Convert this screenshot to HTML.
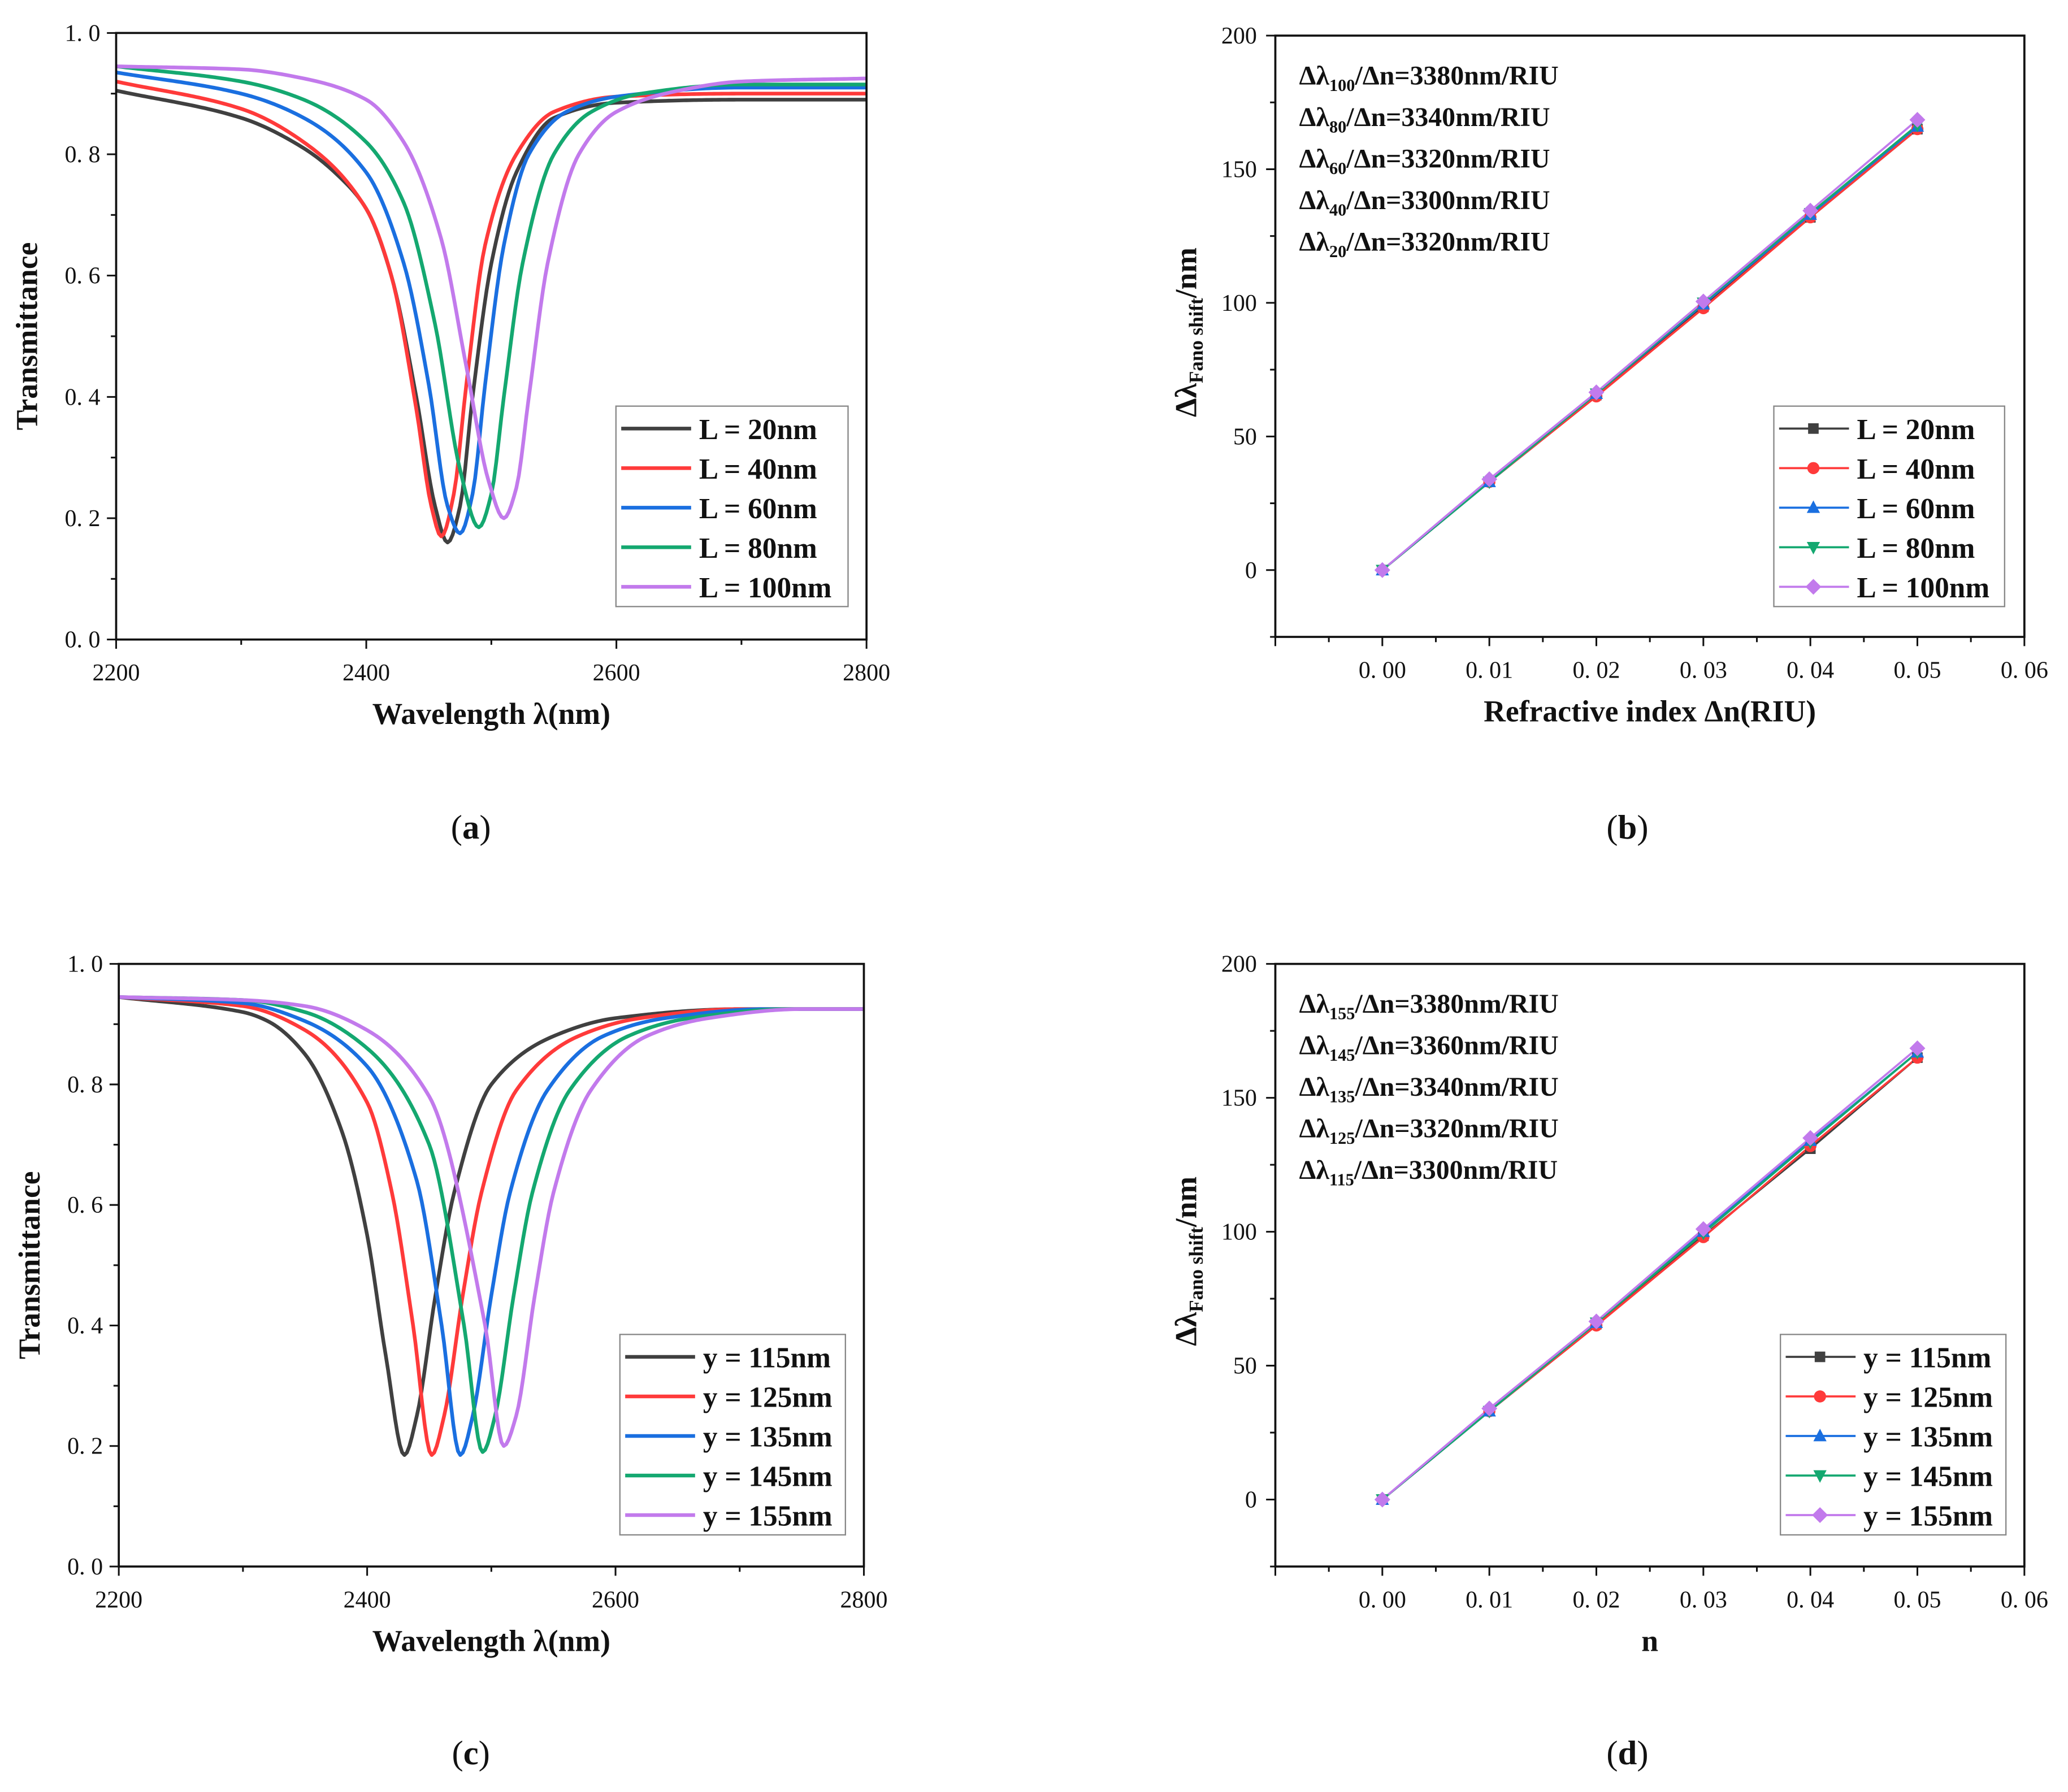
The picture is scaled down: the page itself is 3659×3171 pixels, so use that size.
<!DOCTYPE html>
<html><head><meta charset="utf-8"><style>
html,body{margin:0;padding:0;background:#fff}
svg{display:block}
text{font-family:"Liberation Serif","DejaVu Serif",serif;fill:#111}
.tk{font-size:18px}
.b{font-weight:bold}
</style></head><body>
<svg id="fig" width="3659" height="3171" viewBox="0 0 1568 1359" xmlns="http://www.w3.org/2000/svg">
<rect width="1568" height="1359" fill="#fff"/>
<text x="357" y="636" text-anchor="middle" font-size="26">(<tspan font-weight="bold">a</tspan>)</text>
<text x="1234" y="636" text-anchor="middle" font-size="26">(<tspan font-weight="bold">b</tspan>)</text>
<text x="357" y="1338" text-anchor="middle" font-size="26">(<tspan font-weight="bold">c</tspan>)</text>
<text x="1234" y="1338" text-anchor="middle" font-size="26">(<tspan font-weight="bold">d</tspan>)</text>
</svg>
<script>
const colors=["#404040","#ff3a3a","#1a6fe0","#14a870","#c27aec"];
// Panel a data
const aLabels=["L = 20nm","L = 40nm","L = 60nm","L = 80nm","L = 100nm"];
const aX0=[2200,2300,2350,2380,2400,2420,2440,2455,2465,2475,2485,2500,2520,2550,2600,2700,2800];
const aY0=[0.905,0.86,0.81,0.76,0.71,0.60,0.40,0.22,0.16,0.22,0.40,0.62,0.77,0.86,0.885,0.89,0.89];
const aX1=[2200,2300,2350,2400,2420,2440,2452,2460,2470,2480,2495,2520,2550,2600,2700,2800];
const aY1=[0.92,0.875,0.82,0.71,0.60,0.38,0.22,0.17,0.24,0.42,0.65,0.80,0.87,0.895,0.90,0.90];
const aX2=[2200,2300,2350,2400,2430,2450,2465,2475,2485,2495,2510,2530,2560,2600,2700,2800];
const aY2=[0.935,0.90,0.86,0.77,0.62,0.42,0.22,0.175,0.24,0.42,0.65,0.80,0.87,0.895,0.91,0.91];
const aX3=[2200,2300,2350,2400,2430,2455,2475,2490,2500,2510,2525,2550,2580,2620,2700,2800];
const aY3=[0.945,0.92,0.89,0.82,0.72,0.52,0.28,0.185,0.24,0.40,0.62,0.80,0.87,0.90,0.915,0.915];
const aX4=[2200,2300,2350,2400,2430,2460,2480,2498,2510,2520,2530,2545,2570,2600,2650,2700,2800];
const aY4=[0.945,0.94,0.925,0.89,0.82,0.66,0.45,0.26,0.20,0.25,0.40,0.62,0.80,0.87,0.905,0.92,0.925];
// Panel c data
const cLabels=["y = 115nm","y = 125nm","y = 135nm","y = 145nm","y = 155nm"];
const cX0=[2200,2300,2320,2350,2380,2400,2415,2430,2440,2455,2470,2500,2550,2600,2700,2800];
const cY0=[0.945,0.92,0.905,0.85,0.72,0.55,0.35,0.185,0.25,0.45,0.62,0.80,0.88,0.91,0.925,0.925];
const cX1=[2200,2300,2350,2400,2420,2437,2452,2462,2477,2492,2520,2570,2620,2700,2800];
const cY1=[0.945,0.93,0.89,0.77,0.62,0.40,0.185,0.25,0.45,0.62,0.79,0.88,0.91,0.925,0.925];
const cX2=[2200,2300,2350,2400,2440,2460,2475,2485,2500,2515,2545,2590,2640,2720,2800];
const cY2=[0.945,0.935,0.905,0.83,0.64,0.40,0.185,0.25,0.45,0.62,0.79,0.88,0.91,0.925,0.925];
const cX3=[2200,2300,2350,2400,2450,2478,2493,2503,2518,2533,2563,2610,2660,2740,2800];
const cY3=[0.945,0.94,0.92,0.86,0.70,0.40,0.19,0.25,0.45,0.62,0.79,0.88,0.91,0.925,0.925];
const cX4=[2200,2300,2350,2400,2450,2495,2510,2520,2535,2550,2580,2625,2675,2750,2800];
const cY4=[0.945,0.94,0.93,0.89,0.78,0.40,0.20,0.25,0.45,0.62,0.79,0.88,0.91,0.925,0.925];
// Panel b/d data
const dn=[0,0.01,0.02,0.03,0.04,0.05];
const bS0=[0,33,65.5,98.5,132,165];
const bS1=[0,33,65,98,132,165];
const bS2=[0,33,66,99.5,133,166];
const bS3=[0,33,66,100,133.5,166.5];
const bS4=[0,34,66.5,100.5,134.5,168.5];
const dS0=[0,33,65.5,98.5,131,165];
const dS1=[0,33,65,98,132,165];
const dS2=[0,33,66,100,134,167];
const dS3=[0,33,66,99.5,133.5,167];
const dS4=[0,34,66.5,101,135,168.5];
const bLabels=aLabels, dLabels=cLabels;
const bNotes=[["100","3380"],["80","3340"],["60","3320"],["40","3300"],["20","3320"]];
const dNotes=[["155","3380"],["145","3360"],["135","3340"],["125","3320"],["115","3300"]];
const xTicksA=[2200,2400,2600,2800];
const yTicksA=[0,0.2,0.4,0.6,0.8,1.0];
const xTicksB=[0,0.01,0.02,0.03,0.04,0.05,0.06];
const yTicksB=[0,50,100,150,200];

const NS="http://www.w3.org/2000/svg";
const svg=document.getElementById("fig");
function mk(tag,attrs,parent){const e=document.createElementNS(NS,tag);for(const k in attrs)e.setAttribute(k,attrs[k]);(parent||svg).appendChild(e);return e;}
function lin(d0,d1,r0,r1){return v=>r0+(v-d0)/(d1-d0)*(r1-r0);}
function monoPath(xs,ys,sx,sy){
  const n=xs.length,d=[],m=new Array(n);
  for(let i=0;i<n-1;i++)d.push((ys[i+1]-ys[i])/(xs[i+1]-xs[i]));
  m[0]=d[0];m[n-1]=d[n-2];
  for(let i=1;i<n-1;i++){ if(d[i-1]*d[i]<=0)m[i]=0; else {const w1=2*(xs[i+1]-xs[i])+(xs[i]-xs[i-1]),w2=(xs[i+1]-xs[i])+2*(xs[i]-xs[i-1]);m[i]=(w1+w2)/(w1/d[i-1]+w2/d[i]);} }
  let p="";
  for(let i=0;i<n-1;i++){const h=xs[i+1]-xs[i];const steps=Math.max(4,Math.round(h/2));
    for(let s=(i==0?0:1);s<=steps;s++){const t=s/steps,t2=t*t,t3=t2*t;
      const y=(2*t3-3*t2+1)*ys[i]+(t3-2*t2+t)*h*m[i]+(-2*t3+3*t2)*ys[i+1]+(t3-t2)*h*m[i+1];
      const x=xs[i]+t*h;p+=(p?"L":"M")+sx(x).toFixed(2)+","+sy(y).toFixed(2);}}
  return p;
}

function transPanel(id,L,R,T,B,xsList,ysList,labels,lg){
  const g=mk("g",{});
  
  
  const sx=lin(2200,2800,L,R), sy=lin(0,1,B,T);
  xsList.forEach((xs,k)=>{const p=mk("path",{d:monoPath(xs,ysList[k],sx,sy),fill:"none",stroke:colors[k],"stroke-width":2.8,"stroke-linejoin":"round"},g);
    
    });
  const fr=mk("rect",{x:L,y:T,width:R-L,height:B-T,fill:"none",stroke:"#111","stroke-width":1.6},g);
  
  
  for(let v=0;v<=1.0001;v+=0.1){const y=sy(v);const maj=Math.round(v*10)%2==0;mk("line",{x1:L,x2:L-(maj?7:4),y1:y,y2:y,stroke:"#111","stroke-width":1.3},g);}
  yTicksA.forEach(v=>{const t=mk("text",{x:L-12,y:sy(v)+6,"text-anchor":"end",class:"tk"},g);t.textContent=v.toFixed(1).replace(".",". ");
    
    });
  for(let v=2200;v<=2800;v+=100){const x=sx(v);mk("line",{x1:x,x2:x,y1:B,y2:B+(v%200==0?7:4),stroke:"#111","stroke-width":1.3},g);}
  xTicksA.forEach(v=>{const t=mk("text",{x:sx(v),y:B+31,"text-anchor":"middle",class:"tk"},g);t.textContent=v;
    
    });
  const xt=mk("text",{x:(L+R)/2,y:B+64,"text-anchor":"middle","font-size":23,class:"b"},g);xt.textContent="Wavelength λ(nm)";
  
  
  const yt=mk("text",{x:0,y:0,"text-anchor":"middle","font-size":23,class:"b",transform:"translate("+(L-60)+","+((T+B)/2)+") rotate(-90)"},g);yt.textContent="Transmittance";
  
  
  const leg=mk("g",{},g);
  
  
  mk("rect",{x:lg[0],y:lg[1],width:lg[2],height:152,fill:"#fff",stroke:"#888","stroke-width":1},leg);
  labels.forEach((s,k)=>{const y=lg[1]+17+k*30;mk("line",{x1:lg[0]+4,x2:lg[0]+57,y1:y,y2:y,stroke:colors[k],"stroke-width":2.8},leg);
    const t=mk("text",{x:lg[0]+63,y:y+8,"font-size":22,class:"b"},leg);t.textContent=s;
    
    });
}
function marker(k,x,y,par){
  if(k==0)return mk("rect",{x:x-4,y:y-4,width:8,height:8,fill:colors[k]},par);
  if(k==1)return mk("circle",{cx:x,cy:y,r:4.6,fill:colors[k]},par);
  if(k==2)return mk("polygon",{points:`${x},${y-5.5} ${x+5},${y+4} ${x-5},${y+4}`,fill:colors[k]},par);
  if(k==3)return mk("polygon",{points:`${x},${y+5.5} ${x+5},${y-4} ${x-5},${y-4}`,fill:colors[k]},par);
  return mk("polygon",{points:`${x},${y-6} ${x+6},${y} ${x},${y+6} ${x-6},${y}`,fill:colors[k]},par);
}
function shiftPanel(id,L,R,T,B,series,labels,notes,lg,xtitle){
  const g=mk("g",{});
  
  
  const sx=lin(-0.01,0.06,L,R), sy=lin(-25,200,B,T);
  series.forEach((s,k)=>{const p=mk("polyline",{points:dn.map((x,i)=>sx(x)+","+sy(s[i])).join(" "),fill:"none",stroke:colors[k],"stroke-width":1.6},g);
    
    });
  series.forEach((s,k)=>{dn.forEach((x,i)=>{const m=marker(k,sx(x),sy(s[i]),g);
    
    });});
  const fr=mk("rect",{x:L,y:T,width:R-L,height:B-T,fill:"none",stroke:"#111","stroke-width":1.6},g);
  
  
  for(let v=-25;v<=200;v+=25){const y=sy(v);mk("line",{x1:L,x2:L-(v%50==0?7:4),y1:y,y2:y,stroke:"#111","stroke-width":1.3},g);}
  yTicksB.forEach(v=>{const t=mk("text",{x:L-14,y:sy(v)+6,"text-anchor":"end",class:"tk"},g);t.textContent=v;
    
    });
  for(let i=-2;i<=12;i++){const x=sx(i*0.005);mk("line",{x1:x,x2:x,y1:B,y2:B+(i%2==0?7:4),stroke:"#111","stroke-width":1.3},g);}
  xTicksB.forEach(v=>{const t=mk("text",{x:sx(v),y:B+31,"text-anchor":"middle",class:"tk"},g);t.textContent=v.toFixed(2).replace(".",". ");
    
    });
  const xt=mk("text",{x:(L+R)/2,y:B+64,"text-anchor":"middle","font-size":23,class:"b"},g);xt.textContent=xtitle;
  
  
  const yt=mk("text",{x:0,y:0,"text-anchor":"middle","font-size":23,class:"b",transform:"translate("+(L-60)+","+((T+B)/2-3)+") rotate(-90)"},g);
  yt.innerHTML='Δλ<tspan font-size="15" dy="5">Fano shift</tspan><tspan dy="-5">/nm</tspan>';
  
  
  notes.forEach((n,i)=>{const t=mk("text",{x:L+18,y:T+37+i*31.5,"font-size":20.5,class:"b"},g);
    t.innerHTML='Δλ<tspan font-size="13" dy="5">'+n[0]+'</tspan><tspan dy="-5">/Δn='+n[1]+'nm/RIU</tspan>';
    
    });
  const leg=mk("g",{},g);
  
  
  mk("rect",{x:lg[0],y:lg[1],width:lg[2],height:152,fill:"#fff",stroke:"#888","stroke-width":1},leg);
  labels.forEach((s,k)=>{const y=lg[1]+17+k*30;mk("line",{x1:lg[0]+4,x2:lg[0]+57,y1:y,y2:y,stroke:colors[k],"stroke-width":1.6},leg);
    marker(k,lg[0]+30,y,leg);
    const t=mk("text",{x:lg[0]+63,y:y+8,"font-size":22,class:"b"},leg);t.textContent=s;
    
    });
}
transPanel("a",88,657,25,485,[aX0,aX1,aX2,aX3,aX4],[aY0,aY1,aY2,aY3,aY4],aLabels,[467,308,176]);
transPanel("c",90,655,731,1188,[cX0,cX1,cX2,cX3,cX4],[cY0,cY1,cY2,cY3,cY4],cLabels,[470,1012,171]);
shiftPanel("b",967,1535,27,483,[bS0,bS1,bS2,bS3,bS4],bLabels,bNotes,[1345,308,175],"Refractive index Δn(RIU)");
shiftPanel("d",967,1535,731,1188,[dS0,dS1,dS2,dS3,dS4],dLabels,dNotes,[1350,1012,171],"n");
</script>
</body></html>
